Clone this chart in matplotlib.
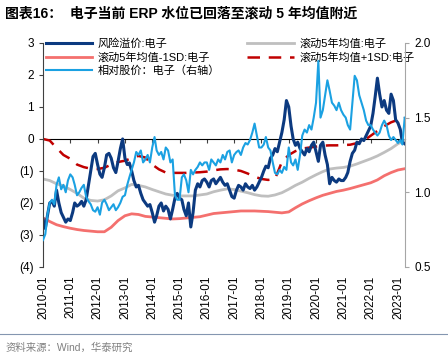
import numpy as np
import pandas as pd
import matplotlib
matplotlib.use('Agg')
import matplotlib.pyplot as plt
import matplotlib.dates as mdates
from matplotlib.lines import Line2D
from matplotlib.ticker import FuncFormatter, NullFormatter

plt.rcParams['font.family'] = ['Liberation Sans', 'Noto Sans CJK SC', 'DejaVu Sans']

# monthly series, 2010-01 .. 2023-04
months = pd.date_range('2010-01-01', '2023-04-01', freq='MS')

erp = [
    -2.5, -2.8, -2.4, -2.0, -1.95, -2.1, -1.6, -2.0, -2.3, -2.45, -2.6, -2.5,      # 2010
    -2.55, -2.3, -2.0, -2.1, -2.05, -1.95, -2.1, -1.9, -1.45, -1.0, -0.55, -0.45,  # 2011
    -0.8, -1.1, -1.2, -0.9, -0.5, -0.45, -0.6, -0.9, -1.05, -0.7, -0.3, 0.0,       # 2012
    -0.6, -0.8, -0.75, -1.0, -1.3, -1.5, -1.45, -1.7, -1.9, -2.0, -2.1, -2.05,     # 2013
    -2.3, -2.6, -2.4, -2.1, -2.0, -2.25, -2.1, -2.2, -2.5, -2.2, -1.85, -1.7,      # 2014
    -1.85, -1.9, -2.2, -2.4, -2.0, -2.75, -2.3, -1.6, -1.4, -1.5, -1.3, -1.25,     # 2015
    -1.35, -1.5, -1.3, -1.25, -1.4, -1.3, -1.2, -1.35, -1.45, -1.4, -1.6, -1.8,    # 2016
    -1.85, -1.6, -1.45, -1.5, -1.6, -1.4, -1.5, -1.55, -1.45, -1.6, -1.5, -1.35,   # 2017
    -1.2, -1.0, -0.85, -0.9, -0.6, -0.5, -0.3, -0.4, -0.1, 0.2, 0.6, 1.2,          # 2018
    1.0, 0.4, 0.0, -0.2, -0.1, -0.3, -0.4, -0.5, -0.3, -0.4, -0.2, -0.1,           # 2019
    -0.4, -0.7, -0.2, -0.1, -0.5, -0.8, -1.4, -1.2, -1.3, -1.35, -1.25, -1.3,      # 2020
    -1.3, -1.2, -1.05, -0.7, -0.45, -0.35, -0.1, -0.15, 0.0, -0.05, 0.1, 0.25,     # 2021
    0.4, 0.8, 1.3, 1.9, 1.4, 1.0, 1.2, 0.9, 0.8, 1.4, 1.2, 0.6,                    # 2022
    0.5, 0.3, -0.1, -0.15,                                                         # 2023
]

rel_price = [
    0.68, 0.72, 0.85, 0.93, 0.95, 0.92, 1.05, 1.10, 1.02, 1.05, 1.00, 1.08,
    1.12, 1.10, 1.05, 0.98, 1.00, 1.03, 1.05, 0.97, 0.94, 0.92, 0.88, 0.87,
    0.90, 0.85, 0.93, 0.95, 0.92, 0.88, 0.90, 0.92, 0.88, 0.90, 0.93, 0.97,
    0.98, 1.05, 1.10, 1.15, 1.20, 1.27, 1.25, 1.28, 1.20, 1.22, 1.25, 1.20,
    1.30, 1.37, 1.28, 1.25, 1.27, 1.22, 1.30, 1.28, 1.20, 1.22, 0.98, 0.95,
    0.95, 1.10, 1.12, 1.08, 1.00, 1.15, 1.12, 1.15, 1.17, 1.20, 1.18, 1.20,
    1.20, 1.15, 1.22, 1.20, 1.18, 1.22, 1.20, 1.25, 1.22, 1.27, 1.28, 1.20,
    1.25, 1.27, 1.28, 1.25, 1.30, 1.33, 1.32, 1.35, 1.40, 1.46, 1.38, 1.30,
    1.30, 1.32, 1.37, 1.30, 1.28, 1.20, 1.13, 1.12, 1.15, 1.13, 1.17, 1.15,
    1.30, 1.20, 1.18, 1.22, 1.15, 1.25, 1.38, 1.42, 1.40, 1.45, 1.42, 1.50,
    1.60, 1.88, 1.50, 1.55, 1.65, 1.75, 1.68, 1.60, 1.58, 1.55, 1.60, 1.55,
    1.52, 1.50, 1.45, 1.42, 1.60, 1.78, 1.75, 1.65, 1.60, 1.55, 1.48, 1.45,
    1.45, 1.42, 1.40, 1.38, 1.40, 1.45, 1.48, 1.45, 1.38, 1.35, 1.37, 1.35,
    1.33, 1.35, 1.32, 1.50,
]

# quarterly series for the rolling bands, 2010Q1 .. 2023Q2
quarters = pd.date_range('2010-01-01', '2023-04-01', freq='QS')

roll_mean = [
    -1.25, -1.30, -1.40, -1.47, -1.58, -1.70, -1.85, -1.92,
    -1.94, -1.90, -1.78, -1.62, -1.53, -1.42, -1.45, -1.50,
    -1.58, -1.65, -1.72, -1.76, -1.78, -1.78, -1.78, -1.75,
    -1.72, -1.65, -1.60, -1.56, -1.58, -1.63, -1.68, -1.74,
    -1.78, -1.79, -1.75, -1.68, -1.57, -1.45, -1.35, -1.23,
    -1.12, -1.02, -0.94, -0.91, -0.89, -0.85, -0.78, -0.70,
    -0.62, -0.53, -0.42, -0.30, -0.15, -0.05,
]

roll_up = [
    0.00, -0.05, -0.28, -0.50, -0.62, -0.80, -0.88, -0.93,
    -0.94, -0.90, -0.80, -0.72, -0.68, -0.60, -0.53, -0.58,
    -0.80, -0.95, -1.05, -1.06, -1.06, -1.06, -1.05, -1.04,
    -1.02, -0.98, -0.95, -0.94, -0.96, -1.00, -1.08, -1.18,
    -1.25, -1.28, -1.25, -0.72, -0.50, -0.38, -0.30, -0.27,
    -0.24, -0.21, -0.20, -0.20, -0.19, -0.18, -0.13, -0.05,
    0.10, 0.25, 0.40, 0.52, 0.60, 0.65,
]

roll_dn = [
    -2.47, -2.58, -2.68, -2.74, -2.79, -2.83, -2.86, -2.88,
    -2.90, -2.90, -2.76, -2.55, -2.40, -2.34, -2.36, -2.42,
    -2.44, -2.46, -2.48, -2.50, -2.49, -2.47, -2.45, -2.43,
    -2.38, -2.33, -2.31, -2.29, -2.27, -2.25, -2.25, -2.25,
    -2.26, -2.27, -2.29, -2.31, -2.28, -2.15, -2.03, -1.93,
    -1.84, -1.76, -1.70, -1.64, -1.60, -1.55, -1.49, -1.43,
    -1.37, -1.28, -1.15, -1.05, -0.97, -0.93,
]

labels = ['风险溢价:电子', '滚动5年均值-1SD:电子', '相对股价：电子（右轴）',
          '滚动5年均值:电子', '滚动5年均值+1SD:电子']

fig = plt.figure(figsize=(4.48, 3.55), dpi=100)
ax = fig.add_axes([0.096, 0.248, 0.808, 0.631])
ax2 = ax.twinx()

l_mean, = ax.plot(quarters, roll_mean, color='#BFBFBF', lw=2.0)
l_dn, = ax.plot(quarters, roll_dn, color='#F4706E', lw=2.0)
l_up, = ax.plot(quarters, roll_up, color='#C00000', lw=1.8, dashes=(5, 3.5))
l_erp, = ax.plot(months, erp, color='#0C3A80', lw=2.2)
l_rel, = ax2.plot(months, rel_price, color='#1BA1E2', lw=1.5)

ax.set_xlim(pd.Timestamp('2010-01-01'), pd.Timestamp('2023-04-05'))
ax.set_ylim(-4, 3)
ax2.set_ylim(0.5, 2.0)

ax.set_yticks(np.arange(-4, 4, 1))
ax.yaxis.set_major_formatter(FuncFormatter(
    lambda v, p: f'({abs(int(round(v)))})' if v < 0 else f'{int(round(v))}'))
ax2.set_yticks([0.5, 1.0, 1.5, 2.0])
ax2.yaxis.set_major_formatter(FuncFormatter(lambda v, p: f'{v:.1f}'))

years = pd.date_range('2010-01-01', '2023-01-01', freq='YS')
ax.set_xticks(years)
ax.xaxis.set_major_formatter(mdates.DateFormatter('%Y-%m'))
ax.tick_params(axis='x', length=0, labelsize=8.5, rotation=90, pad=6)
ax.tick_params(axis='y', direction='out', length=3, labelsize=8.5, color='#404040')
ax2.tick_params(axis='y', direction='out', length=3, labelsize=8.5, color='#A6A6A6')

for s in ['top', 'bottom']:
    ax.spines[s].set_visible(False)
    ax2.spines[s].set_visible(False)
ax.spines['right'].set_visible(False)
ax2.spines['left'].set_visible(False)
ax.spines['left'].set_color('#404040')
ax2.spines['right'].set_color('#A6A6A6')

# zero line carrying the year ticks
sec = ax.secondary_xaxis(4 / 7)
sec.set_xticks(years)
sec.xaxis.set_major_formatter(NullFormatter())
sec.tick_params(direction='in', length=3, color='#404040',
                labelbottom=False, labeltop=False)
sec.spines['bottom'].set_color('#404040')
sec.spines['bottom'].set_linewidth(0.9)

leg = ax.legend([l_erp, l_dn, l_rel, l_mean, l_up], labels, ncol=2,
                loc='upper left', bbox_to_anchor=(-0.005, 1.04), frameon=False,
                fontsize=8, handlelength=4.2, handletextpad=0.5,
                columnspacing=2.4, labelspacing=0.25, borderaxespad=0)

fig.text(0.012, 0.962, '图表16：  电子当前 ERP 水位已回落至滚动 5 年均值附近',
         fontsize=10, fontweight='bold', va='center', ha='left')
fig.add_artist(Line2D([0, 1], [0.059, 0.059], color='#8496B0', lw=0.8))
fig.text(0.012, 0.022, '资料来源：Wind，华泰研究', fontsize=7.5,
         color='#808080', va='center', ha='left')

fig.savefig('out.png', dpi=100)
